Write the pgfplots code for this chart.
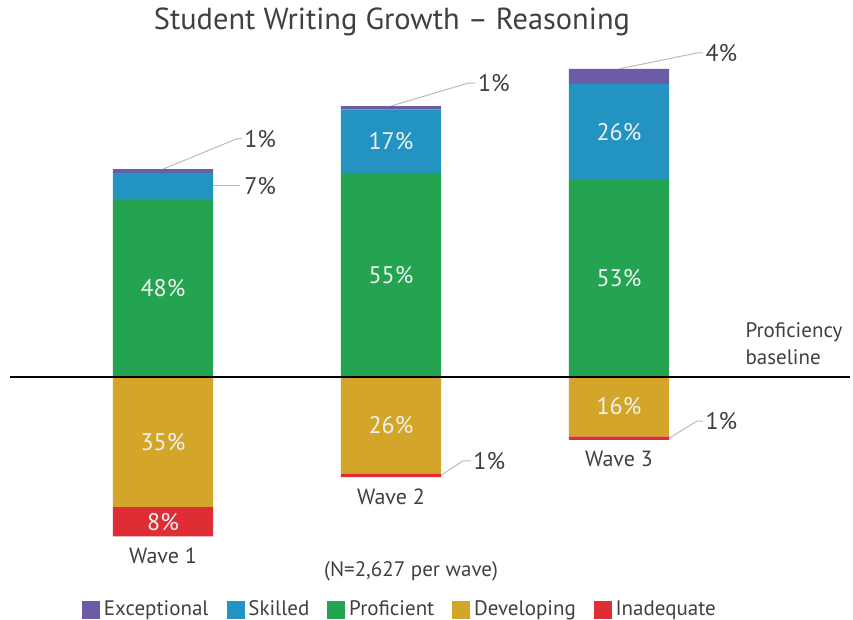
\documentclass[border=0pt]{standalone}
\usepackage{pgfplots}
\usepackage{pgfplotstable}
\pgfplotsset{compat=1.18}
\usepackage{fontspec}
\setmainfont{PT Sans}
\definecolor{cExc}{HTML}{6B5CA5}
\definecolor{cSki}{HTML}{2394C2}
\definecolor{cPro}{HTML}{24A350}
\definecolor{cDev}{HTML}{D3A62A}
\definecolor{cIna}{HTML}{DE2D35}
\definecolor{txt}{HTML}{404040}
\definecolor{lead}{HTML}{BBBBBB}
\pgfplotstableread{
x dev inad prof skil exc
0 -35 -8 48 7 1
1 -26 -1 55 17 1
2 -16 -1 53 26 4
}\data
\begin{document}
\begin{tikzpicture}[
  lbl/.style={font=\fontsize{12}{14}\selectfont, text=white!94!black},
  olbl/.style={font=\fontsize{12}{14}\selectfont, text=txt, anchor=west, inner sep=0pt},
  wlbl/.style={font=\fontsize{11}{13}\selectfont, text=txt},
]
\begin{axis}[
  at={(5pt,37.5pt)}, anchor=south west,
  scale only axis, width=420pt, height=247.5pt,
  xmin=-0.671, xmax=3.013, ymin=-45.3, ymax=88.1,
  hide axis, clip=false,
  ybar stacked, stack negative=separate, bar width=0.44,
  legend columns=5,
  legend style={draw=none, fill=none, at={(0.4655,-0.131)}, anchor=center,
    font=\fontsize{10.5}{12}\selectfont, text=txt,
    /tikz/every even column/.append style={column sep=7pt}},
]
\addplot[fill=cDev, draw=none, forget plot] table[x=x,y=dev]{\data};
\addplot[fill=cIna, draw=none, forget plot] table[x=x,y=inad]{\data};
\addplot[fill=cPro, draw=none, forget plot] table[x=x,y=prof]{\data};
\addplot[fill=cSki, draw=none, forget plot] table[x=x,y=skil]{\data};
\addplot[fill=cExc, draw=none, forget plot] table[x=x,y=exc]{\data};

\addlegendimage{legend image code/.code={\fill[cExc] (0pt,-4.25pt) rectangle (8.5pt,4.25pt);}}
\addlegendentry{Exceptional}
\addlegendimage{legend image code/.code={\fill[cSki] (0pt,-4.25pt) rectangle (8.5pt,4.25pt);}}
\addlegendentry{Skilled}
\addlegendimage{legend image code/.code={\fill[cPro] (0pt,-4.25pt) rectangle (8.5pt,4.25pt);}}
\addlegendentry{Proficient}
\addlegendimage{legend image code/.code={\fill[cDev] (0pt,-4.25pt) rectangle (8.5pt,4.25pt);}}
\addlegendentry{Developing}
\addlegendimage{legend image code/.code={\fill[cIna] (0pt,-4.25pt) rectangle (8.5pt,4.25pt);}}
\addlegendentry{Inadequate}

% coordinates for foreground items
\coordinate (bl) at (axis cs:-0.671,0);
\coordinate (br) at (axis cs:3.013,0);
\coordinate (a1) at (axis cs:0,24);
\coordinate (a2) at (axis cs:0,-17.5);
\coordinate (a3) at (axis cs:0,-39);
\coordinate (b1) at (axis cs:1,27.5);
\coordinate (b2) at (axis cs:1,63.5);
\coordinate (b3) at (axis cs:1,-13);
\coordinate (c1) at (axis cs:2,26.5);
\coordinate (c2) at (axis cs:2,66);
\coordinate (c3) at (axis cs:2,-8);

% leader lines and outside labels
\draw[lead, line width=0.5pt] (axis cs:0,56) -- (axis cs:0.325,64.2) -- (axis cs:0.345,64.2);
\node[olbl] at (axis cs:0.355,64.2) {1\%};
\draw[lead, line width=0.5pt] (axis cs:0.22,51.5) -- (axis cs:0.338,51.5);
\node[olbl] at (axis cs:0.355,51.5) {7\%};
\draw[lead, line width=0.5pt] (axis cs:1,73) -- (axis cs:1.34,79.2) -- (axis cs:1.37,79.2);
\node[olbl] at (axis cs:1.38,79.2) {1\%};
\draw[lead, line width=0.5pt] (axis cs:1.22,-26.5) -- (axis cs:1.316,-22.6) -- (axis cs:1.35,-22.6);
\node[olbl] at (axis cs:1.36,-22.6) {1\%};
\draw[lead, line width=0.5pt] (axis cs:2,83) -- (axis cs:2.342,87.3) -- (axis cs:2.368,87.3);
\node[olbl] at (axis cs:2.378,87.3) {4\%};
\draw[lead, line width=0.5pt] (axis cs:2.22,-16.5) -- (axis cs:2.342,-11.9) -- (axis cs:2.368,-11.9);
\node[olbl] at (axis cs:2.378,-11.9) {1\%};

% wave labels
\node[wlbl] at (axis cs:0,-48.2) {Wave 1};
\node[wlbl] at (axis cs:1,-32.3) {Wave 2};
\node[wlbl] at (axis cs:2,-22.1) {Wave 3};

% baseline text
\node[font=\fontsize{10.5}{12}\selectfont, text=txt, anchor=west, inner sep=0pt] at (axis cs:2.553,12.1) {Proficiency};
\node[font=\fontsize{10.5}{12}\selectfont, text=txt, anchor=west, inner sep=0pt] at (axis cs:2.553,5.4) {baseline};

% title and note
\node[font=\fontsize{15.2}{18}\selectfont, text=txt] at (axis cs:1.004,95.7) {Student Writing Growth – Reasoning};
\node[font=\fontsize{10.5}{12}\selectfont, text=txt] at (axis cs:1.088,-52.3) {(N=2,627 per wave)};
\end{axis}
% foreground: baseline and inside labels
\draw[black, line width=0.75pt] (bl) -- (br);
\node[lbl] at (a1) {48\%};
\node[lbl] at (a2) {35\%};
\node[lbl] at (a3) {8\%};
\node[lbl] at (b1) {55\%};
\node[lbl] at (b2) {17\%};
\node[lbl] at (b3) {26\%};
\node[lbl] at (c1) {53\%};
\node[lbl] at (c2) {26\%};
\node[lbl] at (c3) {16\%};
\pgfresetboundingbox
\path[use as bounding box] (0,0) rectangle (426.5pt,310pt);
\end{tikzpicture}
\end{document}
